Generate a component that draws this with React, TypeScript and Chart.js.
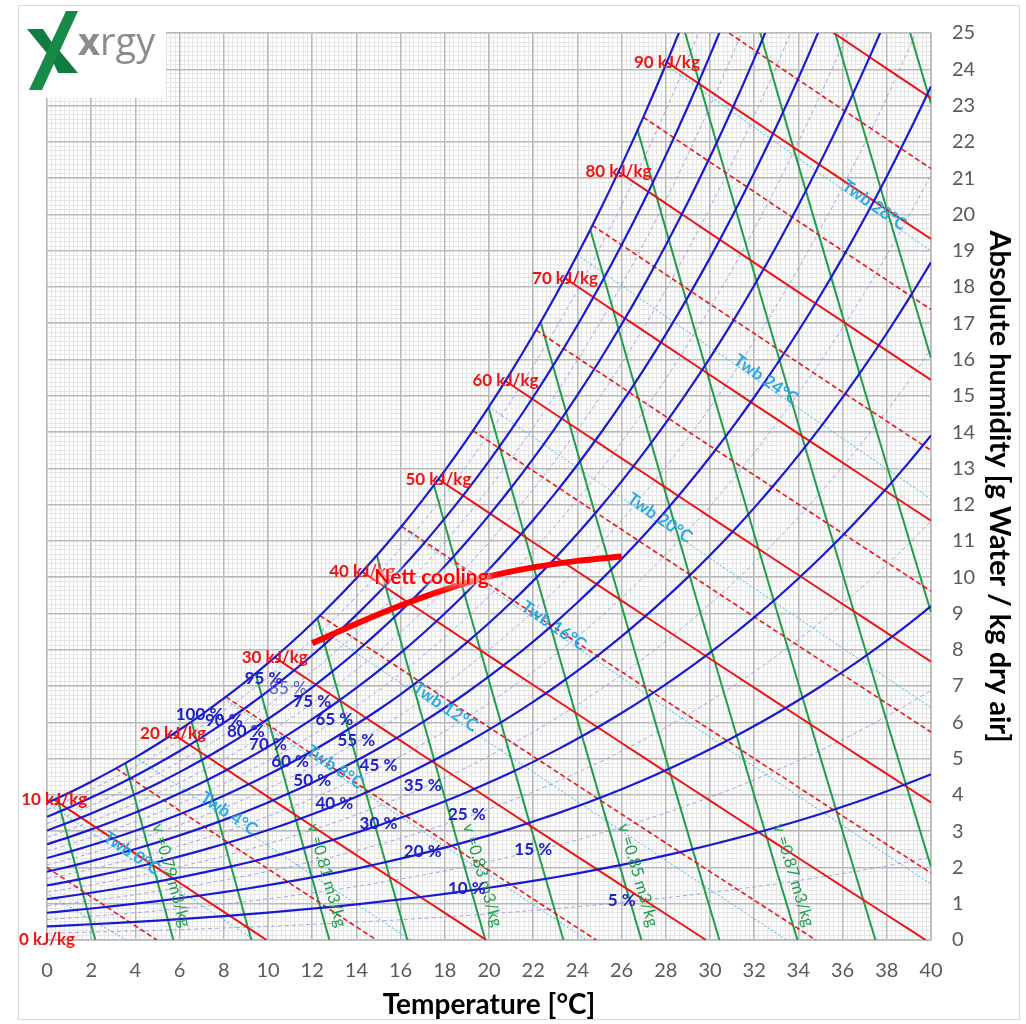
import React, { useEffect, useRef } from "react";
import { Chart, registerables } from "chart.js";

Chart.register(...registerables);

const ATM_KPA = 101.325;

// Saturation line (100 % curve) read as vapour pressure per degree
const tableTempsC = [0, 1, 2, 3, 4, 5, 6, 7, 8, 9, 10, 11, 12, 13, 14, 15, 16, 17, 18, 19, 20, 21, 22, 23, 24, 25, 26, 27, 28, 29, 30, 31, 32, 33, 34, 35, 36, 37, 38, 39, 40];
const satPressureKPa = [0.6113, 0.6571, 0.706, 0.7581, 0.8135, 0.8726, 0.9354, 1.0021, 1.073, 1.1482, 1.2282, 1.313, 1.4028, 1.4981, 1.599, 1.7058, 1.8188, 1.9384, 2.0647, 2.1983, 2.3393, 2.4882, 2.6453, 2.8111, 2.9858, 3.1699, 3.3639, 3.5681, 3.7831, 4.0092, 4.247, 4.4969, 4.7596, 5.0354, 5.3251, 5.629, 5.9479, 6.2823, 6.6328, 7.0002, 7.3851];

// Relative humidity curves and where their labels sit (°C)
const rhLevels = [100, 95, 90, 85, 80, 75, 70, 65, 60, 55, 50, 45, 40, 35, 30, 25, 20, 15, 10, 5];
const rhLabelTemps = [6.9, 9.8, 8, 10.9, 9, 12, 10, 13, 11, 14, 12, 15, 13, 17, 15, 19, 17, 22, 19, 26];

// Enthalpy lines [kJ/kg]
const enthalpyLevels = [0, 5, 10, 15, 20, 25, 30, 35, 40, 45, 50, 55, 60, 65, 70, 75, 80, 85, 90, 95, 100];

// Specific volume lines [m3/kg]
const volumeLevels = [0.78, 0.79, 0.8, 0.81, 0.82, 0.83, 0.84, 0.85, 0.86, 0.87, 0.88, 0.89, 0.9, 0.91, 0.92];
const volumeLabelLevels = [0.79, 0.81, 0.83, 0.85, 0.87];
const volumeLabelHumidity = 1.67;

// Wet bulb lines [°C]
const wetBulbTemps = [-4, 0, 4, 8, 12, 16, 20, 24, 28];
const wetBulbSatPressureKPa = [0.4375, 0.6113, 0.8135, 1.073, 1.4028, 1.8188, 2.3393, 2.9858, 3.7831];
const wetBulbLabelTemps = [NaN, 3.7, 8.1, 12.9, 17.9, 22.8, 27.6, 32.4, 37.3];

// Nett cooling process line
const coolingTemps = [12, 14, 16, 18, 20, 22, 24, 26];
const coolingHumidity = [8.18, 8.72, 9.22, 9.66, 10.02, 10.27, 10.45, 10.57];
const coolingLabel = "Nett cooling";
const coolingLabelTemp = 17.4;
const coolingLabelHumidity = 10.0;

const xTickStep = 2;
const yTickStep = 1;

const FONT = "Lato, 'Open Sans', sans-serif";
const BLUE = "#1a1ad4";
const FAINT = "rgba(150,150,225,0.85)";
const RED = "#ee1414";
const GREEN = "#1f9e4b";
const TWB = "#3db6e8";
const TWB_TEXT = "#2aa9e2";

function psAt(t: number): number {
  if (t <= 0) return satPressureKPa[0];
  if (t >= 40) return satPressureKPa[40];
  const i = Math.floor(t);
  const f = t - i;
  return satPressureKPa[i] * (1 - f) + satPressureKPa[Math.min(i + 1, 40)] * f;
}
function wFromPv(pv: number): number {
  return (622 * pv) / (ATM_KPA - pv);
}
function wSat(t: number): number {
  return wFromPv(psAt(t));
}
function wEnthalpy(h: number, t: number): number {
  return ((h - 1.006 * t) * 1000) / (2501 + 1.86 * t);
}
function wVolume(v: number, t: number): number {
  return ((v * ATM_KPA) / (0.287042 * (t + 273.15)) - 1) / 1.6078 * 1000;
}
function tVolume(v: number, w: number): number {
  return (v * ATM_KPA) / (0.287042 * (1 + (1.6078 * w) / 1000)) - 273.15;
}
function wetBulbParams(twb: number) {
  const ice = twb < 0;
  return ice
    ? { L: 2830 - 0.24 * twb, D0: 2830 - 2.1 * twb }
    : { L: 2501 - 2.326 * twb, D0: 2501 - 4.186 * twb };
}
function wWetBulb(twb: number, ws: number, t: number): number {
  const p = wetBulbParams(twb);
  return (p.L * ws - 1006 * (t - twb)) / (p.D0 + 1.86 * t);
}
function satStart(f: (t: number) => number): number {
  if (f(0) <= wSat(0)) return 0;
  for (let t = 0; t <= 40; t += 0.005) {
    if (f(t) <= wSat(t)) return t;
  }
  return 40;
}
function linePoints(f: (t: number) => number, t0: number, t1: number) {
  const pts: { x: number; y: number }[] = [{ x: t0, y: f(t0) }];
  for (let t = Math.floor(t0) + 1; t < t1; t++) pts.push({ x: t, y: f(t) });
  pts.push({ x: t1, y: f(t1) });
  return pts;
}

function buildDatasets() {
  const ds: any[] = [];
  rhLevels.forEach((rh) => {
    const pts: { x: number; y: number }[] = [];
    for (let i = 0; i < tableTempsC.length; i++) {
      const w = wFromPv((rh / 100) * satPressureKPa[i]);
      pts.push({ x: tableTempsC[i], y: w });
      if (w > 26) break;
    }
    const major = rh % 10 === 0;
    ds.push({
      label: `${rh} %`,
      data: pts,
      borderColor: major ? BLUE : FAINT,
      borderWidth: major ? 2.2 : 1,
      borderDash: major ? [] : [4, 3],
      cubicInterpolationMode: "monotone",
      order: major ? 1 : 6,
    });
  });
  enthalpyLevels.forEach((h) => {
    const f = (t: number) => wEnthalpy(h, t);
    const t0 = satStart(f);
    const t1 = Math.min(40, h / 1.006);
    if (t1 - t0 < 0.01) return;
    const major = h % 10 === 0;
    ds.push({
      label: `${h} kJ/kg`,
      data: linePoints(f, t0, t1),
      borderColor: RED,
      borderWidth: major ? 2 : 1.6,
      borderDash: major ? [] : [5, 3],
      tension: 0,
      order: 2,
    });
  });
  volumeLevels.forEach((v) => {
    const f = (t: number) => wVolume(v, t);
    const t0 = satStart(f);
    const t1 = Math.min(40, tVolume(v, 0));
    ds.push({
      label: `v ${v}`,
      data: linePoints(f, t0, t1),
      borderColor: GREEN,
      borderWidth: 2,
      tension: 0,
      order: 3,
    });
  });
  wetBulbTemps.forEach((twb, i) => {
    const ws = wFromPv(wetBulbSatPressureKPa[i]);
    const f = (t: number) => wWetBulb(twb, ws, t);
    const p = wetBulbParams(twb);
    const t1 = Math.min(40, twb + (p.L * ws) / 1006);
    ds.push({
      label: `Twb ${twb}`,
      data: linePoints(f, twb, t1),
      borderColor: TWB,
      borderWidth: 1,
      borderDash: [2, 2],
      tension: 0,
      order: 5,
    });
  });
  ds.push({
    label: coolingLabel,
    data: coolingTemps.map((t, i) => ({ x: t, y: coolingHumidity[i] })),
    borderColor: "#ff0000",
    borderWidth: 6,
    cubicInterpolationMode: "monotone",
    borderCapStyle: "butt",
    order: 0,
  });
  return ds;
}

function drawRotated(ctx: CanvasRenderingContext2D, text: string, x: number, y: number, angle: number) {
  ctx.save();
  ctx.translate(x, y);
  ctx.rotate(angle);
  ctx.fillText(text, 0, 0);
  ctx.restore();
}

const overlayPlugin = {
  id: "psychroOverlay",
  afterDatasetsDraw(chart: any) {
    const ctx: CanvasRenderingContext2D = chart.ctx;
    const xs = chart.scales.x;
    const ys = chart.scales.y;
    const px = (t: number) => xs.getPixelForValue(t);
    const py = (w: number) => ys.getPixelForValue(w);
    ctx.save();
    ctx.textAlign = "center";
    ctx.textBaseline = "middle";

    // wet bulb labels
    ctx.font = `bold 17px ${FONT}`;
    ctx.fillStyle = TWB_TEXT;
    wetBulbTemps.forEach((twb, i) => {
      const lt = wetBulbLabelTemps[i];
      if (isNaN(lt)) return;
      const ws = wFromPv(wetBulbSatPressureKPa[i]);
      const ax = px(lt - 0.5), ay = py(wWetBulb(twb, ws, lt - 0.5));
      const bx = px(lt + 0.5), by = py(wWetBulb(twb, ws, lt + 0.5));
      const ang = Math.atan2(by - ay, bx - ax);
      const cx = (ax + bx) / 2 + Math.sin(ang) * 5;
      const cy = (ay + by) / 2 - Math.cos(ang) * 5;
      drawRotated(ctx, `Twb ${twb}°C`, cx, cy, ang);
    });

    // volume labels
    ctx.font = `16.5px ${FONT}`;
    ctx.fillStyle = GREEN;
    volumeLabelLevels.forEach((v) => {
      const w = volumeLabelHumidity;
      const ax = px(tVolume(v, w + 0.5)), ay = py(w + 0.5);
      const bx = px(tVolume(v, w - 0.5)), by = py(w - 0.5);
      const ang = Math.atan2(by - ay, bx - ax);
      const cx = (ax + bx) / 2 + Math.sin(ang) * 15;
      const cy = (ay + by) / 2 - Math.cos(ang) * 15;
      drawRotated(ctx, `v =${v.toFixed(2)} m3/kg`, cx, cy, ang);
    });

    // RH labels
    rhLevels.forEach((rh, i) => {
      const t = rhLabelTemps[i];
      const w = wFromPv((rh / 100) * psAt(t));
      if (rh === 85) {
        ctx.font = `17px ${FONT}`;
        ctx.fillStyle = "#5a5ad0";
      } else {
        ctx.font = `bold 17px ${FONT}`;
        ctx.fillStyle = "#2020cc";
      }
      ctx.fillText(`${rh} %`, px(t), py(w) - 2);
    });

    // enthalpy labels
    ctx.font = `bold 17px ${FONT}`;
    ctx.fillStyle = RED;
    enthalpyLevels.forEach((h) => {
      if (h % 10 !== 0) return;
      const f = (t: number) => wEnthalpy(h, t);
      const t0 = satStart(f);
      const w0 = Math.max(0, f(t0));
      if (w0 > 25) return;
      ctx.fillText(`${h} kJ/kg`, px(t0), py(w0));
    });

    // nett cooling label with white glow
    ctx.font = `bold 21px ${FONT}`;
    const lx = px(coolingLabelTemp), ly = py(coolingLabelHumidity);
    ctx.shadowColor = "rgba(255,255,255,1)";
    ctx.shadowBlur = 10;
    ctx.fillStyle = "rgba(255,255,255,0.9)";
    ctx.fillText(coolingLabel, lx, ly);
    ctx.fillText(coolingLabel, lx, ly);
    ctx.shadowBlur = 0;
    ctx.fillStyle = "#ff0000";
    ctx.fillText(coolingLabel, lx, ly);
    ctx.restore();
  },
  afterDraw(chart: any) {
    const ctx: CanvasRenderingContext2D = chart.ctx;
    ctx.save();
    ctx.fillStyle = "#ffffff";
    ctx.fillRect(19, 6, 147, 92);
    const poly = (pts: number[][]) => {
      ctx.beginPath();
      ctx.moveTo(pts[0][0], pts[0][1]);
      for (let i = 1; i < pts.length; i++) ctx.lineTo(pts[i][0], pts[i][1]);
      ctx.closePath();
      ctx.fill();
    };
    ctx.fillStyle = "#0f7c40";
    poly([[27, 29], [43, 29], [57, 50], [50, 57]]);
    poly([[50, 55], [58, 49], [78, 73], [58, 73]]);
    ctx.fillStyle = "#178a49";
    poly([[66, 11], [78, 11], [42, 90], [29, 90]]);
    ctx.fillStyle = "#8c8c8c";
    ctx.textBaseline = "alphabetic";
    ctx.textAlign = "left";
    ctx.font = `bold 38px 'Open Sans', sans-serif`;
    ctx.fillText("x", 78, 55);
    const xw = ctx.measureText("x").width;
    ctx.font = `38px 'Open Sans', sans-serif`;
    ctx.fillText("rgy", 78 + xw, 55);
    ctx.strokeStyle = "#d9d9d9";
    ctx.lineWidth = 1;
    ctx.strokeRect(18.5, 5.5, 1001, 1014);
    ctx.restore();
  },
};

export default function App() {
  const ref = useRef<HTMLCanvasElement | null>(null);
  useEffect(() => {
    if (!ref.current) return;
    const chart = new Chart(ref.current, {
      type: "line",
      data: { datasets: buildDatasets() },
      options: {
        animation: false,
        responsive: false,
        devicePixelRatio: 1,
        parsing: true,
        elements: { point: { radius: 0, hoverRadius: 0 }, line: { fill: false } },
        layout: { padding: { left: 47, top: 27, right: 0, bottom: 0 } },
        plugins: { legend: { display: false }, tooltip: { enabled: false } },
        events: [],
        scales: {
          xMinor: {
            type: "linear", min: 0, max: 40, position: "bottom",
            ticks: { stepSize: 0.2, display: false, autoSkip: false },
            grid: { color: "#e6e6e6", lineWidth: 1, drawTicks: false, z: -2 },
            border: { display: false },
            afterFit: (s: any) => { s.height = 0; },
          },
          yMinor: {
            type: "linear", min: 0, max: 25, position: "right",
            ticks: { stepSize: 0.125, display: false, autoSkip: false },
            grid: { color: "#e6e6e6", lineWidth: 1, drawTicks: false, z: -2 },
            border: { display: false },
            afterFit: (s: any) => { s.width = 0; },
          },
          x: {
            type: "linear", min: 0, max: 40, position: "bottom",
            ticks: { stepSize: xTickStep, color: "#595959", font: { family: FONT, size: 20 }, padding: 19, autoSkip: false, maxRotation: 0 },
            grid: { color: "#b9b9b9", lineWidth: 1.5, drawTicks: false, z: -1 },
            border: { color: "#b9b9b9", width: 1.5 },
            title: { display: true, text: "Temperature [°C]", color: "#000", font: { family: FONT, size: 28, weight: "bold" }, padding: { top: 0, bottom: 2 } },
            afterFit: (s: any) => { s.height = 84; },
          },
          y: {
            type: "linear", min: 0, max: 25, position: "right",
            ticks: { stepSize: yTickStep, color: "#595959", font: { family: FONT, size: 20 }, padding: 21, autoSkip: false },
            grid: { color: "#b9b9b9", lineWidth: 1.5, drawTicks: false, z: -1 },
            border: { color: "#b9b9b9", width: 1.5 },
            title: { display: true, text: "Absolute humidity [g Water / kg dry air]", color: "#000", font: { family: FONT, size: 29, weight: "bold" }, padding: { top: 9, bottom: 0 } },
            afterFit: (s: any) => { s.width = 95; },
          },
        },
      },
      plugins: [overlayPlugin],
    } as any);
    return () => chart.destroy();
  }, []);
  return (
    <div style={{ position: "fixed", left: 0, top: 0, width: 1026, height: 1024, background: "#ffffff" }}>
      <canvas ref={ref} width={1026} height={1024} style={{ display: "block", width: 1026, height: 1024 }} />
    </div>
  );
}
